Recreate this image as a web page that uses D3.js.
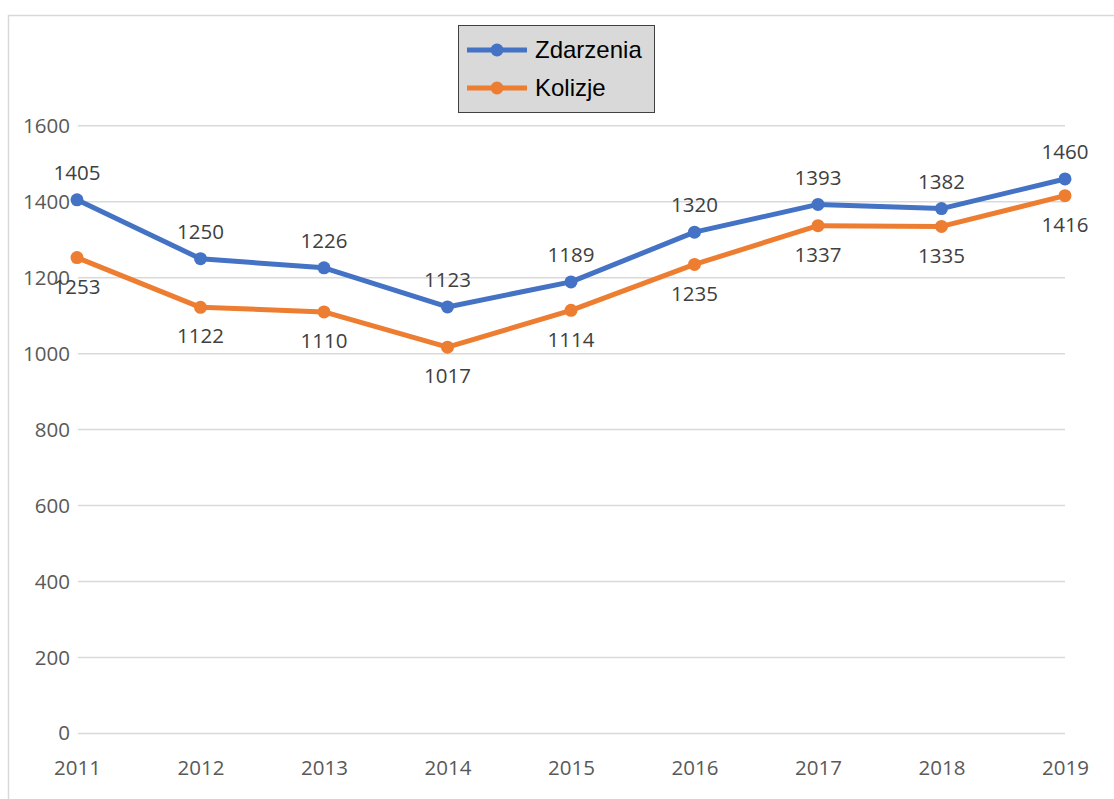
<!DOCTYPE html>
<html><head><meta charset="utf-8">
<script src="https://cdn.jsdelivr.net/npm/d3@7"></script>
<style>body{margin:0;background:#fff}svg{display:block}</style>
</head><body><svg id="c" width="1114" height="799"></svg>
<script>
const years = ["2011","2012","2013","2014","2015","2016","2017","2018","2019"];
const zdarzenia = [1405,1250,1226,1123,1189,1320,1393,1382,1460];
const kolizje = [1253,1122,1110,1017,1114,1235,1337,1335,1416];
const yTicks = [0,200,400,600,800,1000,1200,1400,1600];
const seriesNames = ["Zdarzenia","Kolizje"];
const colors = ["#4472C4","#ED7D31"];

const svg = d3.select("#c");
svg.append("rect").attr("x",8.5).attr("y",15.5).attr("width",1120).attr("height",800)
  .attr("fill","#fff").attr("stroke","#d9d9d9").attr("stroke-width",1.5);

const x = d3.scalePoint().domain(years).range([77,1065]);
const y = d3.scaleLinear().domain([0,1600]).range([733.4,125.8]);
const font = "'Open Sans', sans-serif";
const fs = 20.5;

// gridlines
svg.append("g").selectAll("line").data(yTicks).join("line")
  .attr("x1",78).attr("x2",1065).attr("y1",d=>y(d)).attr("y2",d=>y(d))
  .attr("stroke","#d9d9d9").attr("stroke-width",1.5);

// y axis labels
const ya = svg.append("g").attr("transform","translate(70,0)")
  .call(d3.axisLeft(y).tickValues(yTicks).tickSize(0).tickPadding(0).tickFormat(d3.format("d")));
ya.select(".domain").remove();
ya.selectAll("text").attr("font-family",font).attr("font-size",fs).attr("fill","#595959");

// x axis labels
const xa = svg.append("g").attr("transform","translate(0,760)")
  .call(d3.axisBottom(x).tickSize(0).tickPadding(0));
xa.select(".domain").remove();
xa.selectAll("text").attr("font-family",font).attr("font-size",fs).attr("fill","#595959").attr("dy","0.71em");

const series = [zdarzenia,kolizje];
const line = d3.line().x((d,i)=>x(years[i])).y(d=>y(d));
series.forEach((s,k)=>{
  svg.append("path").datum(s).attr("d",line).attr("fill","none")
    .attr("stroke",colors[k]).attr("stroke-width",5).attr("stroke-linejoin","round");
  svg.append("g").selectAll("circle").data(s).join("circle")
    .attr("cx",(d,i)=>x(years[i])).attr("cy",d=>y(d)).attr("r",6.5).attr("fill",colors[k]);
  svg.append("g").selectAll("text").data(s).join("text")
    .attr("x",(d,i)=>x(years[i])).attr("y",d=>y(d)+(k===0?-27:29))
    .attr("dy","0.35em").attr("text-anchor","middle")
    .attr("font-family",font).attr("font-size",fs).attr("fill","#404040").text(d=>d);
});

// legend
const lg = svg.append("g");
lg.append("rect").attr("x",458.5).attr("y",25.5).attr("width",196).attr("height",87)
  .attr("fill","#d9d9d9").attr("stroke","#404040").attr("stroke-width",1);
seriesNames.forEach((n,k)=>{
  const ly = 50 + k*38;
  lg.append("line").attr("x1",467).attr("x2",527).attr("y1",ly).attr("y2",ly)
    .attr("stroke",colors[k]).attr("stroke-width",5);
  lg.append("circle").attr("cx",497).attr("cy",ly).attr("r",6.5).attr("fill",colors[k]);
  lg.append("text").attr("x",535).attr("y",ly).attr("dy","0.35em")
    .attr("font-family","'Liberation Sans', Arial, sans-serif").attr("font-size",24)
    .attr("fill","#000").text(n);
});
</script></body></html>
